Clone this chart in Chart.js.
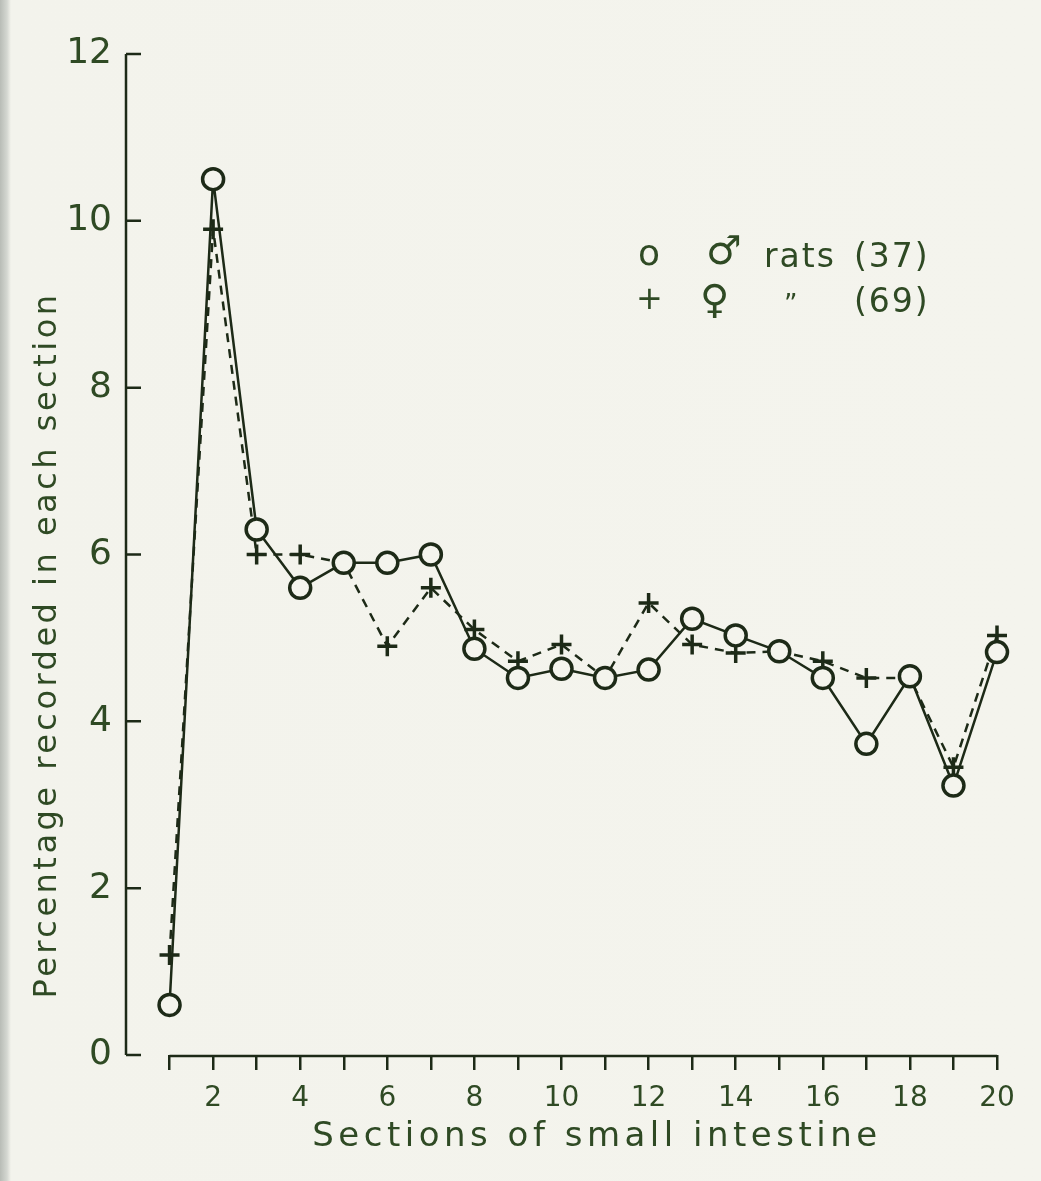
<!DOCTYPE html>
<html>
<head>
<meta charset="utf-8">
<title>Sections of small intestine</title>
<script src="https://cdn.jsdelivr.net/npm/chart.js@4.4.1/dist/chart.umd.min.js"></script>
<style>
    html, body { margin: 0; padding: 0; }
    body {
        width: 1041px;
        height: 1181px;
        overflow: hidden;
        background: linear-gradient(to right, #b8bcb6 0px, #d4d7d1 7px, #f3f3ec 11px, #f4f4ed 100%);
    }
    #chart { display: block; }
</style>
</head>
<body>
<canvas id="chart" width="1041" height="1181"></canvas>
<script>
// data
const sections = [1, 2, 3, 4, 5, 6, 7, 8, 9, 10, 11, 12, 13, 14, 15, 16, 17, 18, 19, 20];
const maleRats = [0.6, 10.5, 6.3, 5.6, 5.9, 5.9, 6.0, 4.87, 4.52, 4.63, 4.52, 4.62, 5.23, 5.03, 4.84, 4.52, 3.73, 4.54, 3.23, 4.83];
const femaleRats = [1.2, 9.9, 6.0, 6.0, 5.9, 4.9, 5.6, 5.1, 4.72, 4.92, 4.52, 5.42, 4.92, 4.82, 4.84, 4.72, 4.52, 4.52, 3.45, 5.03];
const yTicks = [0, 2, 4, 6, 8, 10, 12];
const xLabels = [2, 4, 6, 8, 10, 12, 14, 16, 18, 20];

const ink = '#1d2a17';
const textInk = '#2f4a24';
const paper = '#f4f4ed';
const font = '"DejaVu Sans", sans-serif';

// axes, titles and key are drawn by hand to copy the old plate
const platePlugin = {
    id: 'plate',
    afterDraw(chart) {
        const ctx = chart.ctx;
        const x = chart.scales.x;
        const y = chart.scales.y;
        const left = chart.chartArea.left;
        ctx.save();
        ctx.strokeStyle = ink;
        ctx.lineWidth = 2.5;

        // y axis with inward ticks
        ctx.beginPath();
        ctx.moveTo(left, y.getPixelForValue(12));
        ctx.lineTo(left, y.getPixelForValue(0));
        yTicks.forEach(v => {
            const py = y.getPixelForValue(v);
            ctx.moveTo(left, py);
            ctx.lineTo(left + 15, py);
        });
        ctx.stroke();

        // x axis runs only from section 1 to 20
        const x0 = x.getPixelForValue(sections[0]);
        const x1 = x.getPixelForValue(sections[sections.length - 1]);
        const base = y.getPixelForValue(0) + 1;
        ctx.beginPath();
        ctx.moveTo(x0, base);
        ctx.lineTo(x1, base);
        ctx.stroke();

        // axis titles
        ctx.fillStyle = textInk;
        ctx.font = '34px ' + font;
        ctx.letterSpacing = '4.5px';
        ctx.textAlign = 'center';
        ctx.textBaseline = 'middle';
        ctx.fillText('Sections of small intestine', 597, 1137);

        ctx.save();
        ctx.translate(48, 645);
        ctx.rotate(-Math.PI / 2);
        ctx.font = '32px ' + font;
        ctx.letterSpacing = '3.5px';
        ctx.fillText('Percentage recorded in each section', 0, 0);
        ctx.restore();

        // key
        ctx.letterSpacing = '1px';
        ctx.textAlign = 'left';
        ctx.font = '36px ' + font;
        ctx.fillText('o', 638, 256);
        ctx.font = '32px ' + font;
        ctx.fillText('+', 636, 301);
        ctx.font = '40px ' + font;
        ctx.fillText('\u2642', 706, 254);
        ctx.fillText('\u2640', 700, 303);
        ctx.font = '33px ' + font;
        ctx.letterSpacing = '2px';
        ctx.fillText('rats', 764, 258);
        ctx.fillText('(37)', 854, 258);
        ctx.font = '26px ' + font;
        ctx.fillText('\u201d', 784, 306);
        ctx.font = '33px ' + font;
        ctx.fillText('(69)', 854, 303);
        ctx.restore();
    }
};

function createSectionsChart() {
    const ctx = document.getElementById('chart');
    if (!ctx) return;

    new Chart(ctx, {
        type: 'line',
        data: {
            labels: sections,
            datasets: [
                {
                    label: '\u2640 rats (69)',
                    data: sections.map((s, i) => ({ x: s, y: femaleRats[i] })),
                    borderColor: ink,
                    borderWidth: 2.5,
                    borderDash: [9, 7],
                    pointStyle: 'cross',
                    pointRadius: 10,
                    pointBorderWidth: 3.5,
                    pointBorderColor: ink,
                    tension: 0,
                    clip: false,
                    order: 2
                },
                {
                    label: '\u2642 rats (37)',
                    data: sections.map((s, i) => ({ x: s, y: maleRats[i] })),
                    borderColor: ink,
                    borderWidth: 2.5,
                    pointStyle: 'circle',
                    pointRadius: 10.5,
                    pointBorderWidth: 3.5,
                    pointBorderColor: ink,
                    pointBackgroundColor: paper,
                    tension: 0,
                    clip: false,
                    order: 1
                }
            ]
        },
        options: {
            responsive: false,
            animation: false,
            events: [],
            layout: {
                padding: { left: 0, right: 44, top: 54, bottom: 0 }
            },
            scales: {
                x: {
                    type: 'linear',
                    min: 0,
                    max: 20,
                    afterFit: scale => { scale.height = 126; },
                    afterBuildTicks: scale => {
                        scale.ticks = sections.map(v => ({ value: v }));
                    },
                    ticks: {
                        autoSkip: false,
                        maxRotation: 0,
                        padding: 12,
                        color: textInk,
                        font: { family: font, size: 28 },
                        callback: value => xLabels.includes(value) ? String(value) : ''
                    },
                    grid: {
                        drawOnChartArea: false,
                        drawTicks: true,
                        tickLength: 15,
                        lineWidth: 2.5,
                        color: ink
                    },
                    border: { display: false }
                },
                y: {
                    min: 0,
                    max: 12,
                    afterFit: scale => { scale.width = 126; },
                    afterBuildTicks: scale => {
                        scale.ticks = yTicks.map(v => ({ value: v }));
                    },
                    ticks: {
                        padding: 14,
                        color: textInk,
                        font: { family: font, size: 36 },
                        callback: value => String(value)
                    },
                    grid: { display: false, drawTicks: false },
                    border: { display: false }
                }
            },
            plugins: {
                legend: { display: false },
                tooltip: { enabled: false }
            }
        },
        plugins: [platePlugin]
    });
}

createSectionsChart();
</script>
</body>
</html>
